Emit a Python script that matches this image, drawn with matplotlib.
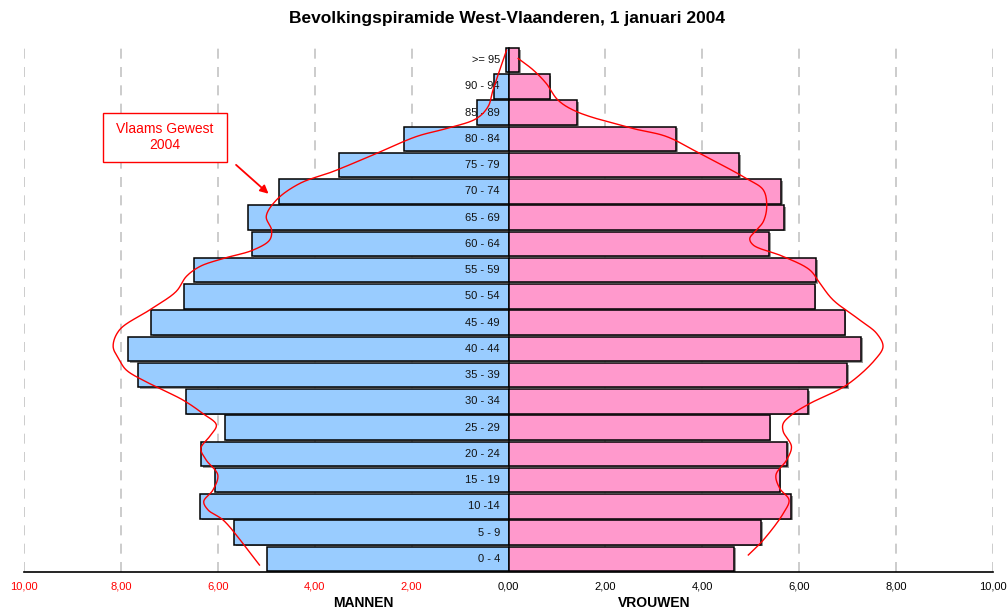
import numpy as np
import matplotlib
matplotlib.use('Agg')
import matplotlib.pyplot as plt
from matplotlib.patches import Rectangle
import matplotlib.patheffects as pe

plt.rcParams['font.family'] = ['Liberation Sans', 'DejaVu Sans']

# ---------------- data ----------------
age_groups = ['0 - 4', '5 - 9', '10 -14', '15 - 19', '20 - 24', '25 - 29', '30 - 34',
              '35 - 39', '40 - 44', '45 - 49', '50 - 54', '55 - 59', '60 - 64',
              '65 - 69', '70 - 74', '75 - 79', '80 - 84', '85 - 89', '90 - 94', '>= 95']
# West-Vlaanderen, % of population
men = [4.98, 5.66, 6.36, 6.06, 6.34, 5.86, 6.66, 7.64, 7.85, 7.37, 6.70, 6.49, 5.29,
       5.37, 4.73, 3.49, 2.16, 0.66, 0.29, 0.06]
women = [4.66, 5.22, 5.84, 5.60, 5.75, 5.39, 6.19, 6.99, 7.28, 6.94, 6.32, 6.35, 5.38,
         5.69, 5.63, 4.76, 3.46, 1.42, 0.85, 0.22]

# Vlaams Gewest 2004 reference curve (age in years, %)
vg_men_age = [1.33, 5.43, 9.90, 11.81, 13.43, 15.62, 18.48, 21.33, 23.52, 25.81, 28.00,
              30.19, 32.76, 35.90, 38.48, 40.38, 42.95, 46.10, 49.90, 53.43, 56.29, 58.19,
              59.71, 61.33, 63.24, 65.14, 67.71, 70.86, 74.00, 76.29, 79.43, 82.95, 84.48,
              86.38, 88.67, 91.80, 99.40]
vg_men_pct = [5.14, 5.48, 5.89, 6.20, 6.29, 6.10, 6.00, 6.24, 6.35, 6.17, 6.03,
              6.31, 6.72, 7.41, 7.89, 8.03, 8.16, 8.03, 7.41, 6.86, 6.65, 6.37,
              5.89, 5.27, 4.93, 4.89, 5.00, 4.79, 4.31, 3.62, 2.80, 1.90, 1.28,
              0.66, 0.42, 0.32, 0.04]
vg_women_age = [3.24, 6.10, 11.14, 13.71, 15.90, 18.48, 21.33, 23.90, 26.76, 28.29, 30.19,
                32.10, 35.62, 40.38, 42.95, 45.43, 48.00, 51.81, 54.95, 57.52, 60.10, 62.29,
                63.52, 65.14, 66.76, 69.62, 72.76, 74.95, 79.71, 82.95, 84.48, 87.71, 89.90,
                93.05, 95.62, 97.81]
vg_women_pct = [4.95, 5.26, 5.67, 5.79, 5.60, 5.52, 5.74, 5.84, 5.67, 5.67, 5.88,
                6.22, 6.98, 7.56, 7.73, 7.60, 7.25, 6.70, 6.43, 6.22, 5.67, 5.05,
                4.98, 5.12, 5.26, 5.33, 5.26, 4.91, 3.95, 3.26, 2.57, 1.40, 1.02,
                0.78, 0.51, 0.20]

tick_values = [-10, -8, -6, -4, -2, 0, 2, 4, 6, 8, 10]
tick_labels = ['10,00', '8,00', '6,00', '4,00', '2,00', '0,00', '2,00', '4,00', '6,00', '8,00', '10,00']

title = 'Bevolkingspiramide West-Vlaanderen, 1 januari 2004'


def catmull_rom(xs, ys, sx=48.4, sy=26.25, n=24, alpha=0.5):
    P = np.column_stack([np.asarray(xs) * sx, np.asarray(ys) * sy])
    P = np.vstack([2 * P[0] - P[1], P, 2 * P[-1] - P[-2]])
    out = []
    for i in range(1, len(P) - 2):
        p0, p1, p2, p3 = P[i - 1], P[i], P[i + 1], P[i + 2]
        t0 = 0.0
        t1 = t0 + max(np.linalg.norm(p1 - p0), 1e-6) ** alpha
        t2 = t1 + max(np.linalg.norm(p2 - p1), 1e-6) ** alpha
        t3 = t2 + max(np.linalg.norm(p3 - p2), 1e-6) ** alpha
        t = np.linspace(t1, t2, n)[:, None]
        A1 = (t1 - t) / (t1 - t0) * p0 + (t - t0) / (t1 - t0) * p1
        A2 = (t2 - t) / (t2 - t1) * p1 + (t - t1) / (t2 - t1) * p2
        A3 = (t3 - t) / (t3 - t2) * p2 + (t - t2) / (t3 - t2) * p3
        B1 = (t2 - t) / (t2 - t0) * A1 + (t - t0) / (t2 - t0) * A2
        B2 = (t3 - t) / (t3 - t1) * A2 + (t - t1) / (t3 - t1) * A3
        C = (t2 - t) / (t2 - t1) * B1 + (t - t1) / (t2 - t1) * B2
        out.append(C if i == len(P) - 3 else C[:-1])
    C = np.vstack(out)
    return C[:, 0] / sx, C[:, 1] / sy


# ---------------- figure ----------------
fig = plt.figure(figsize=(10.08, 6.11), dpi=100)
ax = fig.add_axes([24 / 1008, 1 - 572 / 611, 969 / 1008, 525 / 611])

pos = np.arange(len(age_groups))
ax.set_xlim(-10, 10)
ax.set_ylim(-0.5, len(age_groups) - 0.5)

# dashed vertical grid
for v in tick_values:
    if v != 0:
        ax.axvline(v, color='#c4c4c4', lw=1.2, ls=(0, (6, 5)), zorder=0)

shadow = [pe.SimplePatchShadow(offset=(1.2, -1.2), shadow_rgbFace='#555555', alpha=0.6), pe.Normal()]
bm = ax.barh(pos, [-m for m in men], height=0.93, color='#99CCFF', edgecolor='black', lw=1.1, zorder=2)
bw = ax.barh(pos, women, height=0.93, color='#FF99CC', edgecolor='black', lw=1.1, zorder=2)
for b in list(bm) + list(bw):
    b.set_path_effects(shadow)

# age labels
for p, lab in zip(pos, age_groups):
    ax.text(-0.18, p, lab, ha='right', va='center', fontsize=8, color='#111111', zorder=4)

# Vlaams Gewest curves (age -> row position)
mx, my = catmull_rom([-v for v in vg_men_pct], [(a - 2.5) / 5 for a in vg_men_age])
wx, wy = catmull_rom(vg_women_pct, [(a - 2.5) / 5 for a in vg_women_age])
ax.plot(mx, my, color='red', lw=1.0, zorder=5)
ax.plot(wx, wy, color='red', lw=1.0, zorder=5)

# axes styling
for s in ['left', 'right', 'top']:
    ax.spines[s].set_visible(False)
ax.spines['bottom'].set_linewidth(1.2)
ax.set_yticks([])
ax.set_xticks(tick_values)
ax.set_xticklabels(tick_labels, fontsize=8)
ax.tick_params(axis='x', length=0, pad=7)
for v, lab in zip(tick_values, ax.get_xticklabels()):
    lab.set_color('red' if v < 0 else 'black')

trans = ax.get_xaxis_transform()
ax.text(-3.0, -0.059, 'MANNEN', transform=trans, ha='center', va='center', fontsize=10, fontweight='bold')
ax.text(3.0, -0.059, 'VROUWEN', transform=trans, ha='center', va='center', fontsize=10, fontweight='bold')

fig.text(0.503, 1 - 18 / 611, title, ha='center', va='center', fontsize=12.5, fontweight='bold')

# annotation box + arrow
ax.add_patch(Rectangle((0.0815, 0.781), 0.128, 0.0933, transform=ax.transAxes,
                       facecolor='white', edgecolor='red', lw=1.0, zorder=6))
ax.text(0.1455, 0.828, 'Vlaams Gewest\n2004', transform=ax.transAxes, ha='center', va='center',
        fontsize=10, color='red', zorder=7, linespacing=1.15)
ax.annotate('', xy=(0.2545, 0.717), xytext=(0.2167, 0.779), xycoords='axes fraction',
            arrowprops=dict(arrowstyle='-|>', color='red', lw=1.3, mutation_scale=12), zorder=7)

fig.savefig('out.png', dpi=100)
